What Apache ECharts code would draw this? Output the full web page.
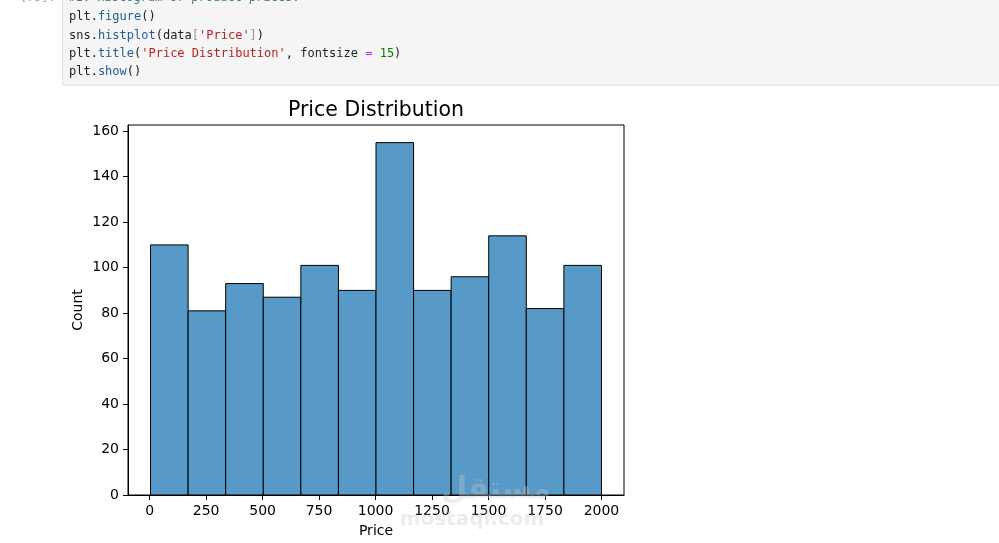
<!DOCTYPE html>
<html>
<head>
<meta charset="utf-8">
<script src="https://cdn.jsdelivr.net/npm/echarts@6/dist/echarts.min.js"></script>
<style>
html,body{margin:0;padding:0;background:#fff;}
#chart{width:999px;height:543px;}
</style>
</head>
<body>
<div id="chart"></div>
<script>
// ---- data ----
const counts = [110, 81, 93, 87, 101, 90, 155, 90, 96, 114, 82, 101];
const priceMin = 4;
const priceMax = 2000;
const xTickValues = [0, 250, 500, 750, 1000, 1250, 1500, 1750, 2000];
const yTickValues = [0, 20, 40, 60, 80, 100, 120, 140, 160];
const titleText = 'Price Distribution';
const xLabel = 'Price';
const yLabel = 'Count';
const codeLines = [
  '{c|#1. Histogram of product prices.}',
  '{n|plt}{o|.}{f|figure}{n|()}',
  '{n|sns}{o|.}{f|histplot}{n|(data}{g|[}{s|\'Price\'}{g|]}{n|)}',
  '{n|plt}{o|.}{f|title}{n|(}{s|\'Price Distribution\'}{n|, fontsize }{op|=}{n| }{num|15}{n|)}',
  '{n|plt}{o|.}{f|show}{n|()}'
];
const promptText = '[75]:';

// ---- build ----
const nBins = counts.length;
const binW = (priceMax - priceMin) / nBins;
const histData = counts.map((c, i) => [priceMin + i * binW, priceMin + (i + 1) * binW, c]);
const span = priceMax - priceMin;
const xMin = priceMin - 0.05 * span;
const xMax = priceMax + 0.05 * span;
const yMax = Math.max(...counts) * 1.05;

const FONT = '"DejaVu Sans", sans-serif';
const MONO = '"DejaVu Sans Mono", monospace';

function rs(color, italic) {
  return {fill: color, fontStyle: italic ? 'italic' : 'normal', fontFamily: MONO, fontSize: 12};
}
const rich = {
  c: rs('#3d7b7b', true),
  n: rs('#222'),
  o: rs('#222'),
  f: rs('#1f5c99'),
  g: rs('#999'),
  s: rs('#ba2121'),
  op: rs('#aa22ff'),
  num: rs('#008000')
};

const lineY = [-2, 17, 35.5, 54, 72];
const codeGraphics = codeLines.map((t, i) => ({
  type: 'text', x: 69, y: lineY[i], z: 10,
  style: {text: t, rich: rich, verticalAlign: 'middle', align: 'left', fontFamily: MONO, fontSize: 12, fill: '#222'}
}));

const chart = echarts.init(document.getElementById('chart'), null, {renderer: 'canvas'});
chart.setOption({
  animation: false,
  backgroundColor: '#fff',
  grid: {left: 128, top: 125, width: 496, height: 370, show: true, borderColor: '#000', borderWidth: 1, containLabel: false},
  xAxis: {
    type: 'value', min: xMin, max: xMax,
    name: xLabel, nameLocation: 'middle', nameGap: 29,
    nameTextStyle: {color: '#000', fontFamily: FONT, fontSize: 14},
    axisLine: {show: true, onZero: false, lineStyle: {color: '#000', width: 1}},
    axisTick: {show: true, length: 5, inside: false, lineStyle: {color: '#000', width: 1}, customValues: xTickValues},
    axisLabel: {color: '#000', fontFamily: FONT, fontSize: 14, margin: 9, customValues: xTickValues, formatter: v => String(v)},
    splitLine: {show: false}
  },
  yAxis: {
    type: 'value', min: 0, max: yMax,
    name: yLabel, nameLocation: 'middle', nameGap: 43,
    nameTextStyle: {color: '#000', fontFamily: FONT, fontSize: 14},
    axisLine: {show: true, onZero: false, lineStyle: {color: '#000', width: 1}},
    axisTick: {show: true, length: 5, inside: false, lineStyle: {color: '#000', width: 1}, customValues: yTickValues},
    axisLabel: {color: '#000', fontFamily: FONT, fontSize: 14, margin: 9, customValues: yTickValues, formatter: v => String(v)},
    splitLine: {show: false}
  },
  series: [{
    type: 'custom',
    data: histData,
    encode: {x: [0, 1], y: 2},
    renderItem: function (params, api) {
      const p0 = api.coord([api.value(0), api.value(2)]);
      const p1 = api.coord([api.value(1), 0]);
      return {
        type: 'rect',
        shape: {x: p0[0], y: p0[1], width: p1[0] - p0[0], height: p1[1] - p0[1]},
        style: {fill: '#5799c7', stroke: '#000', lineWidth: 1}
      };
    }
  }],
  graphic: [
    {type: 'rect', z: 5, shape: {x: 62.5, y: -5, width: 945, height: 90}, style: {fill: '#f5f5f5', stroke: '#e0e0e0', lineWidth: 1}},
    {type: 'text', x: 56, y: -2, z: 10, style: {text: promptText, fill: '#aaa', font: '12px ' + MONO, align: 'right', verticalAlign: 'middle'}},
    ...codeGraphics,
    {type: 'text', x: 376, y: 111, z: 10, style: {text: titleText, fill: '#000', font: '20.5px ' + FONT, align: 'center', verticalAlign: 'middle'}},
    {type: 'text', x: 472, y: 520, z: 20, style: {text: 'mostaql.com', fill: 'rgba(200,200,200,0.35)', font: 'bold 20px ' + FONT, align: 'center', verticalAlign: 'middle'}},
    {type: 'text', x: 496, y: 490, z: 20, style: {text: 'مستقل', fill: 'rgba(200,200,200,0.35)', font: 'bold 30px ' + FONT, align: 'center', verticalAlign: 'middle'}}
  ]
});
</script>
</body>
</html>
